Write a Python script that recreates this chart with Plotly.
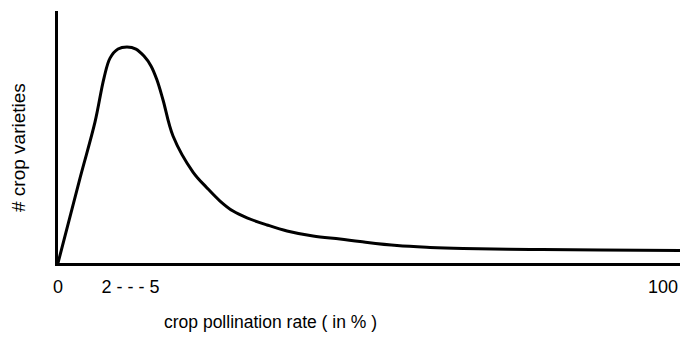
import plotly.graph_objects as go

# Schematic distribution of crop varieties over pollination rate
rate_pos = [0.0, 3.64, 6.12, 7.60, 8.60, 9.92, 11.40, 12.89, 14.21, 15.37,
            16.36, 17.36, 19.01, 22.31, 24.63, 26.78, 28.93, 31.24,
            34.55, 37.85, 42.15, 46.61, 49.92, 56.03, 61.49, 66.94, 78.02,
            89.59, 102.81]
varieties = [0.0, 33.7, 56.0, 73.4, 81.3, 84.9, 85.7, 84.9, 82.1, 78.2,
             72.6, 64.7, 50.4, 36.1, 29.8, 24.6, 20.6, 17.9,
             15.1, 12.7, 10.7, 9.5, 8.5, 6.9, 6.2, 5.8, 5.4,
             5.2, 5.0]

tick_pos = [0, 12, 100]
tick_text = ["0", "2 - - - 5", "100"]

FONT = "Liberation Sans Narrow, Arial Narrow, Liberation Sans, Arial, sans-serif"

fig = go.Figure()
fig.add_trace(go.Scatter(
    x=rate_pos, y=varieties, mode="lines",
    line=dict(color="black", width=3, shape="spline", smoothing=1.0),
    hoverinfo="skip", showlegend=False,
))

fig.update_layout(
    width=680, height=346,
    margin=dict(l=58, r=0, t=11, b=83),
    paper_bgcolor="white", plot_bgcolor="white",
    font=dict(family=FONT, color="black", size=18),
    xaxis=dict(
        range=[0, 102.8], showgrid=False, zeroline=False,
        showline=True, linecolor="black", linewidth=3,
        tickvals=tick_pos, ticktext=tick_text, ticks="",
        ticklabelstandoff=5, tickfont=dict(size=18, family=FONT),
    ),
    yaxis=dict(
        range=[0, 100], showgrid=False, zeroline=False,
        showline=True, linecolor="black", linewidth=3,
        showticklabels=False, ticks="",
    ),
    annotations=[
        dict(text="crop pollination rate ( in % )", xref="paper", yref="paper",
             x=(270 - 58) / 622, y=-(322 - 263) / 252, showarrow=False,
             xanchor="center", yanchor="middle", font=dict(size=17.5, family=FONT)),
        dict(text="# crop varieties", xref="paper", yref="paper",
             x=-(58 - 18) / 622, y=(263 - 148) / 252, showarrow=False,
             textangle=-90, xanchor="center", yanchor="middle",
             font=dict(size=19, family=FONT)),
    ],
)

fig.write_html("out.html")
